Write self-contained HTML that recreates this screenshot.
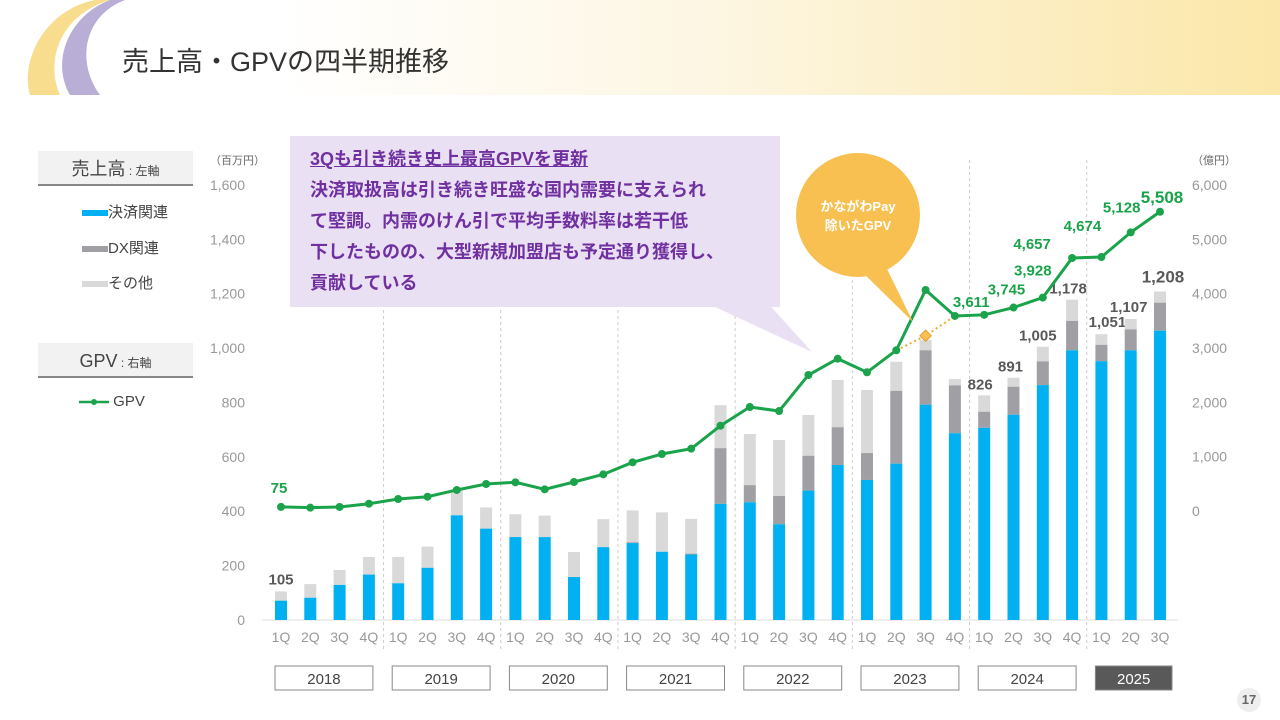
<!DOCTYPE html>
<html><head><meta charset="utf-8">
<style>
body{margin:0;width:1280px;height:720px;overflow:hidden;background:#fff;font-family:"Liberation Sans","Noto Sans CJK JP",sans-serif;position:relative}
.abs{position:absolute}
</style></head><body>
<div class="abs" style="left:0;top:0;width:1280px;height:95px;background:linear-gradient(90deg,#fff 0%,#fff 22%,#fdf6e3 55%,#fbe7a8 100%)"></div>
<svg class="abs" style="left:0;top:0" width="130" height="95">
<path d="M95 0 C45 10 20 60 30 95 L60 95 C45 60 60 15 110 0Z" fill="#f9dd8e"/>
<path d="M110 0 C70 15 50 60 70 95 L100 95 C75 60 85 15 125 0Z" fill="#b8aed6"/>
</svg>
<div class="abs" style="left:122px;top:40px;font-size:27px;color:#333">売上高・GPVの四半期推移</div>

<div class="abs" style="left:38px;top:151px;width:155px;height:33px;background:#f2f2f2;border-bottom:2px solid #888;text-align:center;line-height:36px;font-size:18px;color:#444">売上高<span style="font-size:12px"> : 左軸</span></div>
<div class="abs" style="left:82px;top:204px;font-size:15px;color:#444;line-height:18px"><span style="display:inline-block;width:26px;height:6px;background:#00b0f0;vertical-align:middle"></span>決済関連</div>
<div class="abs" style="left:82px;top:240px;font-size:15px;color:#444;line-height:18px"><span style="display:inline-block;width:26px;height:6px;background:#a0a0a4;vertical-align:middle"></span>DX関連</div>
<div class="abs" style="left:82px;top:275px;font-size:15px;color:#444;line-height:18px"><span style="display:inline-block;width:26px;height:6px;background:#d9d9d9;vertical-align:middle"></span>その他</div>
<div class="abs" style="left:38px;top:343px;width:155px;height:33px;background:#f2f2f2;border-bottom:2px solid #888;text-align:center;line-height:36px;font-size:18px;color:#444">GPV<span style="font-size:12px"> : 右軸</span></div>
<div class="abs" style="left:79px;top:393px;font-size:15px;color:#444;line-height:18px"><svg width="30" height="10" style="vertical-align:middle"><line x1="0" y1="5" x2="30" y2="5" stroke="#1aa34a" stroke-width="2.5"/><circle cx="15" cy="5" r="3" fill="#1aa34a"/></svg> GPV</div>

<svg id="chart" class="abs" style="left:0;top:0" width="1280" height="720"></svg>

<div class="abs" style="left:1237px;top:688px;width:24px;height:24px;border-radius:12px;background:#eee;color:#666;font-size:13px;font-weight:bold;text-align:center;line-height:24px">17</div>

<script>
const quarters=["1Q","2Q","3Q","4Q"];
const years=["2018","2019","2020","2021","2022","2023","2024","2025"];
const payment=[71,82,129,167,135,192,385,336,305,305,158,268,283,251,241,427,433,352,476,570,515,575,792,687,707,755,864,992,952,992,1064];
const dx=[0,0,0,0,0,0,0,0,0,0,0,0,3,0,3,205,63,104,128,139,99,268,200,176,59,103,87,108,60,77,103];
const total=[105,132,184,232,232,270,478,414,389,384,250,371,403,396,372,790,684,662,754,883,846,950,1030,886,826,891,1005,1178,1051,1107,1208];
const gpv=[75,61,74,134,221,263,387,497,528,399,534,675,896,1049,1147,1570,1914,1840,2503,2803,2553,2958,4068,3590,3611,3745,3928,4657,4674,5128,5508];
const gpvExKanagawa=[2958,3226,3590];
const barLabels=["105",null,null,null,null,null,null,null,null,null,null,null,null,null,null,null,null,null,null,null,null,null,null,null,"826","891","1,005","1,178","1,051","1,107","1,208"];
const gpvLabels={0:"75",24:"3,611",25:"3,745",26:"3,928",27:"4,657",28:"4,674",29:"5,128",30:"5,508"};
const leftTicks=[0,200,400,600,800,1000,1200,1400,1600];
const rightTicks=[0,1000,2000,3000,4000,5000,6000];
// label layout offsets (px), not data
const barLabelShift={0:[0,-7],24:[-4,-6],25:[-3,-6],26:[-5,-6],27:[-4,-6],28:[6,-7],29:[-2,-7],30:[3,-9]};
const gpvLabelShift={0:[-2,-14],24:[-13,-8],25:[-7,-13],26:[-10,-22],27:[-40,-9],28:[-19,-26],29:[-9,-20],30:[2,-9]};

const svg=document.getElementById('chart');const NS="http://www.w3.org/2000/svg";
function mk(t,a,parent){const e=document.createElementNS(NS,t);for(const k in a)e.setAttribute(k,a[k]);(parent||svg).appendChild(e);return e;}
const xS=i=>281+i*29.3;
const yL=v=>620-v*0.2719;
const yR=v=>511-v*0.05433;
const fmt=v=>v.toLocaleString('en-US');

leftTicks.forEach(v=>{const t=mk('text',{x:245,y:yL(v)+5,'text-anchor':'end','font-size':14,fill:'#999'});t.textContent=fmt(v);

});
rightTicks.forEach(v=>{const t=mk('text',{x:1192,y:yR(v)+5,'font-size':14,fill:'#999'});t.textContent=fmt(v);

});
let u=mk('text',{x:210,y:164,'font-size':11,fill:'#666'});u.textContent="（百万円）";


u=mk('text',{x:1192,y:164,'font-size':11,fill:'#666'});u.textContent="（億円）";



for(let k=1;k<8;k++){const x=(xS(k*4-1)+xS(k*4))/2;const l=mk('line',{x1:x,y1:160,x2:x,y2:650,stroke:'#ccc','stroke-dasharray':'3,3'});

}
const base=mk('line',{x1:262,y1:620,x2:1178,y2:620,stroke:'#ddd'});



total.forEach((tv,i)=>{const x=xS(i)-6,w=12;
const o=mk('rect',{x:x,y:yL(tv),width:w,height:yL(payment[i]+dx[i])-yL(tv),fill:'#d9d9d9'});


const d=mk('rect',{x:x,y:yL(payment[i]+dx[i]),width:w,height:yL(payment[i])-yL(payment[i]+dx[i]),fill:'#a0a0a4'});


const p=mk('rect',{x:x,y:yL(payment[i]),width:w,height:620-yL(payment[i]),fill:'#00b0f0'});


const q=mk('text',{x:xS(i),y:642,'text-anchor':'middle','font-size':14,fill:'#999'});q.textContent=quarters[i%4];


if(barLabels[i]){const s=barLabelShift[i]||[0,-7];const t=mk('text',{x:xS(i)+s[0],y:yL(tv)+s[1],'text-anchor':'middle','font-size':i==30?17:15,'font-weight':'bold',fill:'#595959'});t.textContent=barLabels[i];

}
});

years.forEach((y,k)=>{const x0=xS(k*4)-6,x1=k==7?xS(30)+12:xS(k*4+3)+4;
const r=mk('rect',{x:x0,y:666,width:x1-x0,height:24,fill:k==7?'#595959':'#fff',stroke:'#888'});


const t=mk('text',{x:(x0+x1)/2,y:684,'text-anchor':'middle','font-size':15,fill:k==7?'#fff':'#444'});t.textContent=y;

});

const dp=gpvExKanagawa.map((v,j)=>xS(21+j)+','+yR(v)).join(' ');
const dl=mk('polyline',{points:dp,fill:'none',stroke:'#f0a830','stroke-width':2,'stroke-dasharray':'2,3'});


const dm=mk('rect',{x:xS(22)-4,y:yR(gpvExKanagawa[1])-4,width:8,height:8,fill:'#f8c050',stroke:'#e0a030',transform:`rotate(45 ${xS(22)} ${yR(gpvExKanagawa[1])})`});



const gl=mk('polyline',{points:gpv.map((v,i)=>xS(i)+','+yR(v)).join(' '),fill:'none',stroke:'#1aa34a','stroke-width':3});


gpv.forEach((v,i)=>{const c=mk('circle',{cx:xS(i),cy:yR(v),r:4,fill:'#1aa34a'});


if(gpvLabels[i]){const s=gpvLabelShift[i];const t=mk('text',{x:xS(i)+s[0],y:yR(v)+s[1],'text-anchor':'middle','font-size':i==30?17:15,'font-weight':'bold',fill:'#1aa34a'});t.textContent=gpvLabels[i];

}});

const ct=mk('polygon',{points:'700,300 765,300 812,352',fill:'#e9e0f3'});


const oc=mk('polygon',{points:'850,260 885,265 913,322',fill:'#f8c050'});


const ci=mk('circle',{cx:858,cy:215,r:62,fill:'#f8c050'});


</script>
<div class="abs" style="left:290px;top:136px;height:171px;background:#e9e0f3;padding:0 0 0 20px;color:#7030a0;font-weight:bold;font-size:18px;line-height:31px;padding-top:8px;box-sizing:border-box;width:490px">
<div style="text-decoration:underline">3Qも引き続き史上最高GPVを更新</div>
<div>決済取扱高は引き続き旺盛な国内需要に支えられ<br>て堅調。内需のけん引で平均手数料率は若干低<br>下したものの、大型新規加盟店も予定通り獲得し、<br>貢献している</div>
</div>
<div class="abs" style="left:796px;top:197px;width:124px;text-align:center;color:#fff;font-weight:bold;font-size:13px;line-height:19px">かながわPay<br>除いたGPV</div>
</body></html>
